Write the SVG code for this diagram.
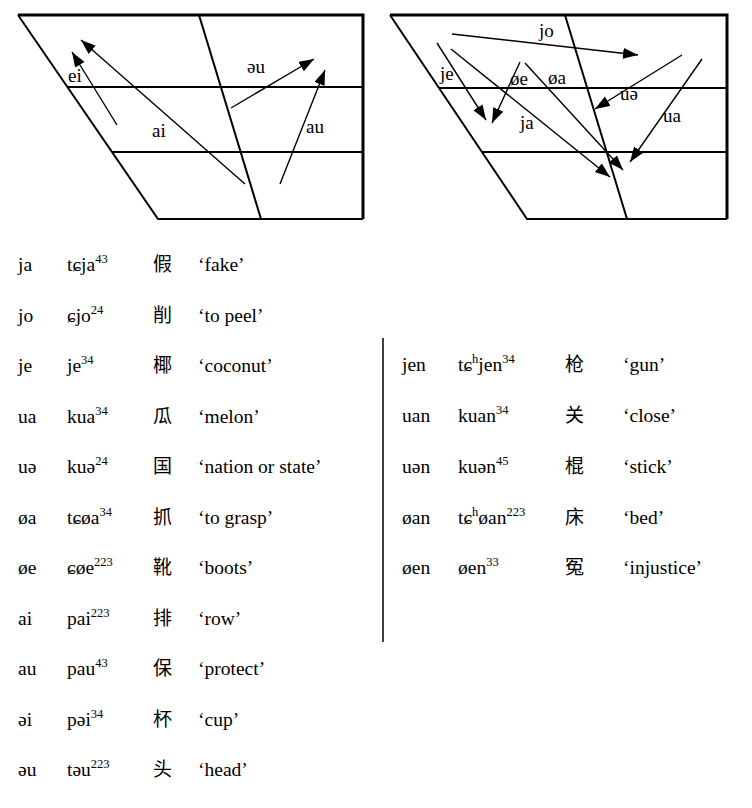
<svg xmlns="http://www.w3.org/2000/svg" width="752" height="808" viewBox="0 0 752 808">
<style>
text{font-family:"Liberation Serif","DejaVu Serif","Noto Sans CJK SC",serif;fill:#000}
.t{font-size:19.5px}
.lb{font-size:19px}
.cj{font-family:"Noto Sans CJK SC","Noto Sans CJK TC",sans-serif;font-size:19px}
.sup{font-size:12.5px}
.fr{fill:none;stroke:#000;stroke-width:2}
.fr2{fill:none;stroke:#000;stroke-width:3}
.ar{fill:none;stroke:#000;stroke-width:1.4;marker-end:url(#ah)}
</style>
<defs>
<marker id="ah" markerUnits="userSpaceOnUse" markerWidth="16" markerHeight="12" refX="15" refY="5.5" orient="auto">
<path d="M0,0 L15,5.5 L0,11 z" fill="#000"/>
</marker>
</defs>
<g id="chart-left">
<path class="fr2" d="M18,15 H363 V219"/>
<path class="fr" d="M18,15 L158,219 H363"/>
<path class="fr" d="M199,15 L261,219"/>
<path class="fr" d="M68,87 H363"/>
<path class="fr" d="M112,152 H363"/>
</g>
<g id="chart-left-arrows">
<path class="ar" d="M117,125 L72,52"/>
<path class="ar" d="M245,184 L81,40"/>
<path class="ar" d="M231,108 L314,59"/>
<path class="ar" d="M280,184 L325,70"/>
<text class="lb" x="68" y="82">ei</text>
<text class="lb" x="152" y="137">ai</text>
<text class="lb" x="247" y="73">əu</text>
<text class="lb" x="306" y="133">au</text>
</g>
<g id="chart-right">
<path class="fr2" d="M390,15 H727 V219"/>
<path class="fr" d="M390,15 L527,219 H727"/>
<path class="fr" d="M565,15 L627,219"/>
<path class="fr" d="M439,88 H727"/>
<path class="fr" d="M482,152 H727"/>
</g>
<g id="chart-right-arrows">
<path class="ar" d="M452,34 L638,55"/>
<path class="ar" d="M437,43 L486,120"/>
<path class="ar" d="M451,49 L610,177"/>
<path class="ar" d="M520,62 L492,123"/>
<path class="ar" d="M525,63 L623,170"/>
<path class="ar" d="M682,55 L595,109"/>
<path class="ar" d="M702,59 L630,162"/>
<text class="lb" x="539" y="37">jo</text>
<text class="lb" x="440" y="80">je</text>
<text class="lb" x="510" y="85">øe</text>
<text class="lb" x="548" y="84">øa</text>
<text class="lb" x="620" y="100">uə</text>
<text class="lb" x="520" y="129">ja</text>
<text class="lb" x="663" y="122">ua</text>
</g>
<g id="table-left">
<g class="t">
<text x="18" y="271">ja</text><text x="67" y="271">tɕja<tspan class="sup" dy="-8">43</tspan></text><text class="cj" x="153" y="271">假</text><text x="198" y="271">‘fake’</text>
<text x="18" y="321.5">jo</text><text x="67" y="321.5">ɕjo<tspan class="sup" dy="-8">24</tspan></text><text class="cj" x="153" y="321.5">削</text><text x="198" y="321.5">‘to peel’</text>
<text x="18" y="372">je</text><text x="67" y="372">je<tspan class="sup" dy="-8">34</tspan></text><text class="cj" x="153" y="372">椰</text><text x="198" y="372">‘coconut’</text>
<text x="18" y="422.5">ua</text><text x="67" y="422.5">kua<tspan class="sup" dy="-8">34</tspan></text><text class="cj" x="153" y="422.5">瓜</text><text x="198" y="422.5">‘melon’</text>
<text x="18" y="473">uə</text><text x="67" y="473">kuə<tspan class="sup" dy="-8">24</tspan></text><text class="cj" x="153" y="473">国</text><text x="198" y="473">‘nation or state’</text>
<text x="18" y="523.5">øa</text><text x="67" y="523.5">tɕøa<tspan class="sup" dy="-8">34</tspan></text><text class="cj" x="153" y="523.5">抓</text><text x="198" y="523.5">‘to grasp’</text>
<text x="18" y="574">øe</text><text x="67" y="574">ɕøe<tspan class="sup" dy="-8">223</tspan></text><text class="cj" x="153" y="574">靴</text><text x="198" y="574">‘boots’</text>
<text x="18" y="624.5">ai</text><text x="67" y="624.5">pai<tspan class="sup" dy="-8">223</tspan></text><text class="cj" x="153" y="624.5">排</text><text x="198" y="624.5">‘row’</text>
<text x="18" y="675">au</text><text x="67" y="675">pau<tspan class="sup" dy="-8">43</tspan></text><text class="cj" x="153" y="675">保</text><text x="198" y="675">‘protect’</text>
<text x="18" y="725.5">əi</text><text x="67" y="725.5">pəi<tspan class="sup" dy="-8">34</tspan></text><text class="cj" x="153" y="725.5">杯</text><text x="198" y="725.5">‘cup’</text>
<text x="18" y="776">əu</text><text x="67" y="776">təu<tspan class="sup" dy="-8">223</tspan></text><text class="cj" x="153" y="776">头</text><text x="198" y="776">‘head’</text>
</g>
</g>
<g id="divider">
<path d="M383,338 V642" stroke="#000" stroke-width="1.5" fill="none"/>
</g>
<g id="table-right">
<g class="t">
<text x="402" y="371">jen</text><text x="458" y="371">tɕ<tspan class="sup" dy="-8">h</tspan><tspan dy="8">jen</tspan><tspan class="sup" dy="-8">34</tspan></text><text class="cj" x="565" y="371">枪</text><text x="623" y="371">‘gun’</text>
<text x="402" y="422">uan</text><text x="458" y="422">kuan<tspan class="sup" dy="-8">34</tspan></text><text class="cj" x="565" y="422">关</text><text x="623" y="422">‘close’</text>
<text x="402" y="473">uən</text><text x="458" y="473">kuən<tspan class="sup" dy="-8">45</tspan></text><text class="cj" x="565" y="473">棍</text><text x="623" y="473">‘stick’</text>
<text x="402" y="523.5">øan</text><text x="458" y="523.5">tɕ<tspan class="sup" dy="-8">h</tspan><tspan dy="8">øan</tspan><tspan class="sup" dy="-8">223</tspan></text><text class="cj" x="565" y="523.5">床</text><text x="623" y="523.5">‘bed’</text>
<text x="402" y="574">øen</text><text x="458" y="574">øen<tspan class="sup" dy="-8">33</tspan></text><text class="cj" x="565" y="574">冤</text><text x="623" y="574">‘injustice’</text>
</g>
</g>
</svg>
